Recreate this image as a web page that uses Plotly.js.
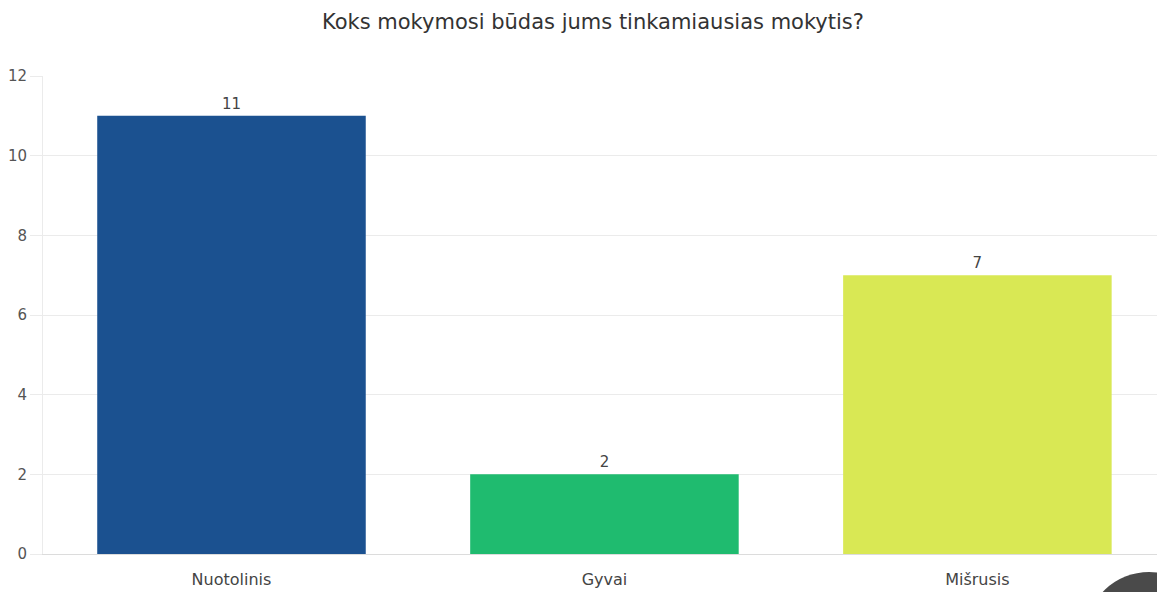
<!DOCTYPE html>
<html>
<head>
<meta charset="utf-8">
<script src="https://cdn.plot.ly/plotly-3.0.1.min.js"></script>
<style>html,body{margin:0;padding:0;background:#fff;}#chart{width:1157px;height:592px;}</style>
</head>
<body>
<div id="chart"></div>
<script>
const categories = ["Nuotolinis", "Gyvai", "Mišrusis"];
const counts = [11, 2, 7];
const barColors = ["#1b5190", "#1fbb6f", "#d9e854"];
const yTicks = [0, 2, 4, 6, 8, 10, 12];
const chartTitle = "Koks mokymosi būdas jums tinkamiausias mokytis?";

const trace = {
  type: "bar",
  x: categories,
  y: counts,
  width: 0.72,
  marker: {color: barColors, line: {width: 0}},
  text: counts.map(String),
  textposition: "outside",
  constraintext: "none",
  cliponaxis: false,
  textfont: {family: "DejaVu Sans, Liberation Sans, Arial", size: 15, color: "#444"},
  hoverinfo: "x+y"
};

const layout = {
  width: 1157, height: 592,
  margin: {l: 43, r: 0, t: 76, b: 38},
  paper_bgcolor: "#ffffff",
  plot_bgcolor: "#ffffff",
  showlegend: false,
  title: {
    text: chartTitle,
    x: 0.5125, xanchor: "center",
    y: 0.963, yanchor: "middle",
    font: {family: "DejaVu Sans, Liberation Sans, Arial", size: 21, color: "#333"}
  },
  xaxis: {
    range: [-0.5054, 2.4816],
    showgrid: false,
    zeroline: false,
    showline: true, linecolor: "#dcdcdc", linewidth: 1,
    ticks: "outside", ticklen: 11, tickcolor: "rgba(0,0,0,0)",
    tickfont: {family: "DejaVu Sans, Liberation Sans, Arial", size: 16, color: "#444"},
    fixedrange: true
  },
  yaxis: {
    range: [0, 12],
    tickvals: yTicks,
    ticktext: yTicks.map(String),
    showgrid: true, gridcolor: "#ebebeb", gridwidth: 1,
    zeroline: false,
    showline: true, linecolor: "#ebebeb", linewidth: 1,
    ticks: "outside", ticklen: 12, tickcolor: "#ebebeb",
    tickfont: {family: "DejaVu Sans, Liberation Sans, Arial", size: 15, color: "#555"},
    fixedrange: true
  },
  shapes: [{
    type: "circle", xref: "paper", yref: "paper",
    x0: 0.937, x1: 1.049, y0: -0.2887, y1: -0.0377,
    fillcolor: "#4a4a4a", line: {width: 0}, layer: "above"
  }]
};

Plotly.newPlot("chart", [trace], layout, {displayModeBar: false, staticPlot: true});
</script>
</body>
</html>
